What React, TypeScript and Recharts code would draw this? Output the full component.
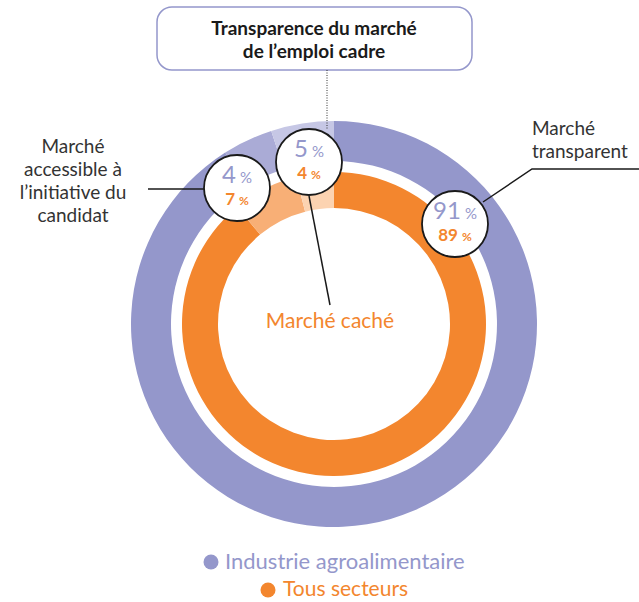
import React from "react";
import { PieChart, Pie, Cell } from "recharts";

/* ── données ───────────────────────────── */
const categories = [
  "Marché transparent",
  "Marché accessible à l’initiative du candidat",
  "Marché caché",
];
const seriesNames = ["Industrie agroalimentaire", "Tous secteurs"];
const industrieValues = [91, 4, 5];
const tousSecteursValues = [89, 7, 4];

const PURPLE = ["#9497CB", "#AAABD6", "#C6C7E5"];
const ORANGE = ["#F3862E", "#F8AF76", "#FCD3B1"];

const outerData = categories.map((name, i) => ({ name, value: industrieValues[i] }));
const innerData = categories.map((name, i) => ({ name, value: tousSecteursValues[i] }));

const CX = 329;
const CY = 319;
const FONT = "Lato, 'DejaVu Sans', sans-serif";

/* bulles : position (mise en page) -> index de catégorie */
const bubbles = [
  { idx: 0, x: 455, y: 224, r: 33 },
  { idx: 1, x: 237, y: 188, r: 33 },
  { idx: 2, x: 309, y: 162, r: 33 },
];

function Bubble({ idx, x, y, r }: { idx: number; x: number; y: number; r: number }) {
  return (
    <g>
      <circle cx={x} cy={y} r={r} fill="#fff" stroke="#1a1a1a" strokeWidth={1.8} />
      <text textAnchor="middle" fontFamily={FONT}>
        <tspan x={x} y={y - 5} fill={PURPLE[0]} fontSize={24}>{industrieValues[idx]}</tspan>
        <tspan fill={PURPLE[0]} fontSize={15} dx={4}>%</tspan>
        <tspan x={x} y={y + 17} fill={ORANGE[0]} fontWeight={700} fontSize={17}>{tousSecteursValues[idx]}</tspan>
        <tspan fill={ORANGE[0]} fontWeight={700} fontSize={12} dx={4}>%</tspan>
      </text>
    </g>
  );
}

export default function App() {
  return (
    <div style={{ position: "absolute", left: 0, top: 0, width: 639, height: 602, background: "#fff" }}>
      <PieChart width={639} height={602} style={{ position: "absolute", left: 0, top: 0 }}>
        <Pie
          data={outerData}
          dataKey="value"
          cx={CX}
          cy={CY}
          innerRadius={163}
          outerRadius={203}
          startAngle={90}
          endAngle={-270}
          stroke="none"
          isAnimationActive={false}
        >
          {outerData.map((d, i) => (
            <Cell key={d.name} fill={PURPLE[i]} />
          ))}
        </Pie>
        <Pie
          data={innerData}
          dataKey="value"
          cx={CX}
          cy={CY}
          innerRadius={116}
          outerRadius={152}
          startAngle={90}
          endAngle={-270}
          stroke="none"
          isAnimationActive={false}
        >
          {innerData.map((d, i) => (
            <Cell key={d.name} fill={ORANGE[i]} />
          ))}
        </Pie>
      </PieChart>

      <svg width={639} height={602} style={{ position: "absolute", left: 0, top: 0, pointerEvents: "none" }}>
        {/* titre */}
        <rect x={157} y={7} width={315} height={63} rx={15} fill="#fff" stroke={PURPLE[0]} strokeWidth={1.5} />
        <text textAnchor="middle" fontFamily={FONT} fontWeight={700} fontSize={19} fill="#1a1a1a">
          <tspan x={314} y={35}>Transparence du marché</tspan>
          <tspan x={314} y={58}>de l’emploi cadre</tspan>
        </text>
        <line x1={327} y1={70} x2={327} y2={130} stroke="#333" strokeWidth={1} strokeDasharray="1 1.5" />

        {/* traits de rappel */}
        <line x1={148} y1={189} x2={205} y2={189} stroke="#1a1a1a" strokeWidth={1.5} />
        <polyline points="483,202 532,169 639,169" fill="none" stroke="#1a1a1a" strokeWidth={1.5} />
        <line x1={309} y1={196} x2={330} y2={305} stroke="#1a1a1a" strokeWidth={1.5} />

        {bubbles.map((b) => (
          <Bubble key={b.idx} {...b} />
        ))}

        {/* libellés */}
        <text textAnchor="middle" fontFamily={FONT} fontSize={19} fill="#333">
          <tspan x={73} y={153}>Marché</tspan>
          <tspan x={73} y={176}>accessible à</tspan>
          <tspan x={73} y={199}>l’initiative du</tspan>
          <tspan x={73} y={222}>candidat</tspan>
        </text>
        <text fontFamily={FONT} fontSize={19} fill="#333">
          <tspan x={532} y={135}>Marché</tspan>
          <tspan x={532} y={158}>transparent</tspan>
        </text>
        <text x={330} y={328} textAnchor="middle" fontFamily={FONT} fontSize={21} fill={ORANGE[0]}>
          {categories[2]}
        </text>

        {/* légende */}
        <circle cx={211} cy={562} r={7.5} fill={PURPLE[0]} />
        <text x={225} y={569} fontFamily={FONT} fontSize={22} fill={PURPLE[0]}>
          {seriesNames[0]}
        </text>
        <circle cx={268} cy={590} r={7.5} fill={ORANGE[0]} />
        <text x={283} y={596} fontFamily={FONT} fontSize={21} fill={ORANGE[0]}>
          {seriesNames[1]}
        </text>
      </svg>
    </div>
  );
}
